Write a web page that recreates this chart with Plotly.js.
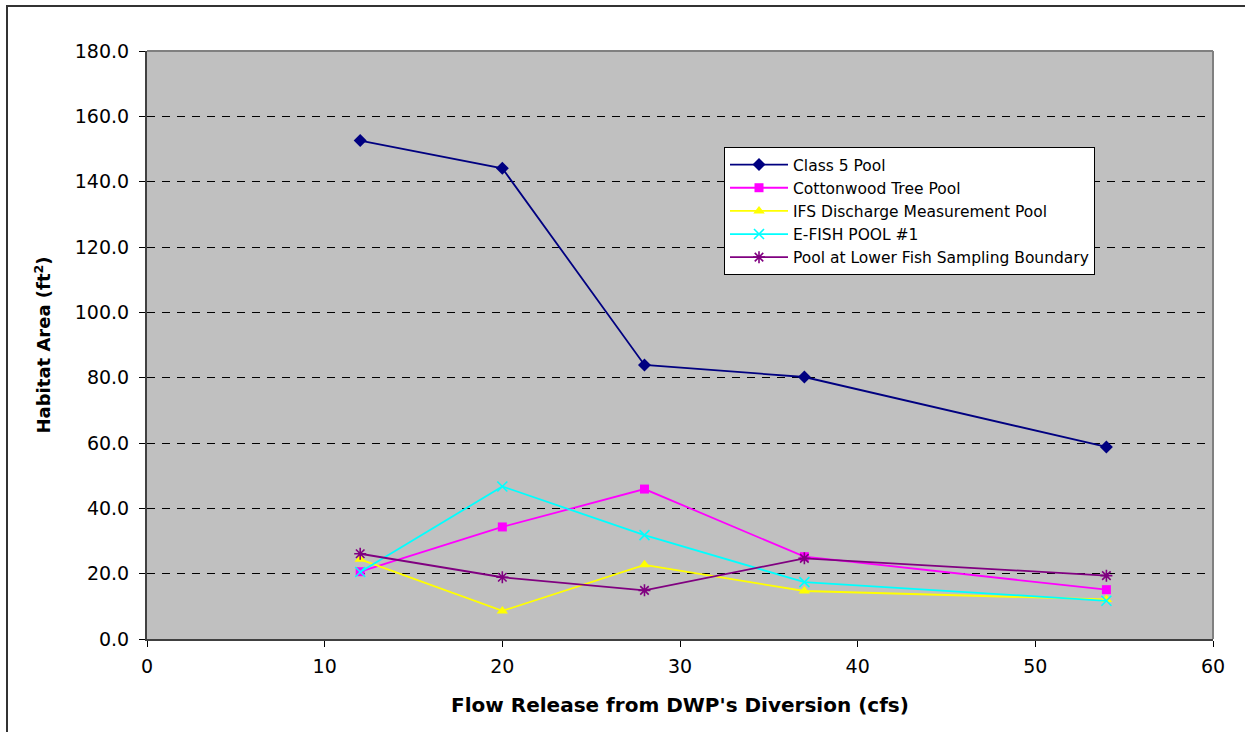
<!DOCTYPE html>
<html>
<head>
<meta charset="utf-8">
<script src="https://cdn.plot.ly/plotly-3.0.1.min.js"></script>
<style>
  html, body { margin: 0; padding: 0; background: #ffffff; }
  #chart { width: 1245px; height: 732px; }
</style>
</head>
<body>
<div id="chart"></div>
<script>
// Flow release (cfs) at each survey
const flows = [12, 20, 28, 37, 54];

// Habitat area (ft²) per pool
const class5Pool = [152.6, 144.1, 83.9, 80.2, 58.8];
const cottonwoodTreePool = [20.6, 34.3, 45.9, 25.2, 15.1];
const ifsDischargePool = [24.4, 8.6, 22.7, 14.7, 12.1];
const eFishPool1 = [20.5, 46.7, 31.8, 17.4, 11.7];
const lowerFishBoundaryPool = [26.1, 18.9, 14.9, 24.7, 19.4];

const seriesNames = [
  'Class 5 Pool',
  'Cottonwood Tree Pool',
  'IFS Discharge Measurement Pool',
  'E-FISH POOL #1',
  'Pool at Lower Fish Sampling Boundary'
];

const FONT = '"DejaVu Sans", "Liberation Sans", Arial, sans-serif';

function series(name, y, color, symbol, size, extraMarker) {
  return {
    type: 'scatter',
    mode: 'lines+markers',
    name: name,
    x: flows,
    y: y,
    line: { color: color, width: 1.8 },
    marker: Object.assign({ color: color, symbol: symbol, size: size }, extraMarker || {}),
    cliponaxis: false
  };
}

const traces = [
  series(seriesNames[0], class5Pool, '#000080', 'diamond', 10),
  series(seriesNames[1], cottonwoodTreePool, '#FF00FF', 'square', 9),
  series(seriesNames[2], ifsDischargePool, '#FFFF00', 'triangle-up', 10),
  series(seriesNames[3], eFishPool1, '#00FFFF', 'x-thin-open', 10, { line: { color: '#00FFFF', width: 1.6 } }),
  series(seriesNames[4], lowerFishBoundaryPool, '#800080', 'asterisk-open', 10, { line: { color: '#800080', width: 1.6 } })
];

const plotL = 147, plotR = 1213, plotT = 51, plotB = 639;
const pw = plotR - plotL, ph = plotB - plotT;
const px = v => (v - plotL) / pw;
const py = v => (plotB - v) / ph;

const layout = {
  width: 1245,
  height: 732,
  margin: { l: plotL, r: 1245 - plotR, t: plotT, b: 732 - plotB },
  paper_bgcolor: '#ffffff',
  plot_bgcolor: '#C0C0C0',
  font: { family: FONT, color: '#000000', size: 19 },
  showlegend: true,
  legend: {
    x: px(724), y: py(147), xanchor: 'left', yanchor: 'top',
    bgcolor: '#ffffff', bordercolor: '#000000', borderwidth: 1,
    font: { family: FONT, size: 15.5, color: '#000000' },
    itemwidth: 58,
    tracegroupgap: 0
  },
  xaxis: {
    range: [0, 60], dtick: 10, tick0: 0,
    showgrid: false, zeroline: false,
    showline: true, linecolor: '#404040', linewidth: 2,
    ticks: 'outside', ticklen: 6, tickcolor: '#000000', tickwidth: 1,
    tickfont: { family: FONT, size: 19 },
    ticklabelstandoff: 3,
    title: { text: "Flow Release from DWP's Diversion (cfs)", font: { family: FONT, size: 20, weight: 'bold' }, standoff: 22 }
  },
  yaxis: {
    range: [0, 180], dtick: 20, tick0: 0, tickformat: '.1f',
    showgrid: true, gridcolor: '#000000', gridwidth: 1, griddash: '8px,7px',
    zeroline: false,
    showline: true, linecolor: '#404040', linewidth: 2,
    ticks: 'outside', ticklen: 6, tickcolor: '#000000', tickwidth: 1,
    tickfont: { family: FONT, size: 19 },
    ticklabelstandoff: 6,
    title: { text: 'Habitat Area (ft<sup>2</sup>)', font: { family: FONT, size: 18, weight: 'bold' }, standoff: 19 }
  },
  shapes: [
    // top and right frame of the plotting area
    { type: 'line', xref: 'paper', yref: 'paper', x0: 0, x1: 1, y0: 1, y1: 1, line: { color: '#808080', width: 2 } },
    { type: 'line', xref: 'paper', yref: 'paper', x0: 1, x1: 1, y0: 0, y1: 1, line: { color: '#808080', width: 2 } },
    // outer chart border
    { type: 'rect', xref: 'paper', yref: 'paper', layer: 'above',
      x0: px(7), x1: px(1250), y0: py(740), y1: py(6),
      line: { color: '#333333', width: 2 }, fillcolor: 'rgba(0,0,0,0)' }
  ]
};

Plotly.newPlot('chart', traces, layout, { displayModeBar: false, staticPlot: true });
</script>
</body>
</html>
